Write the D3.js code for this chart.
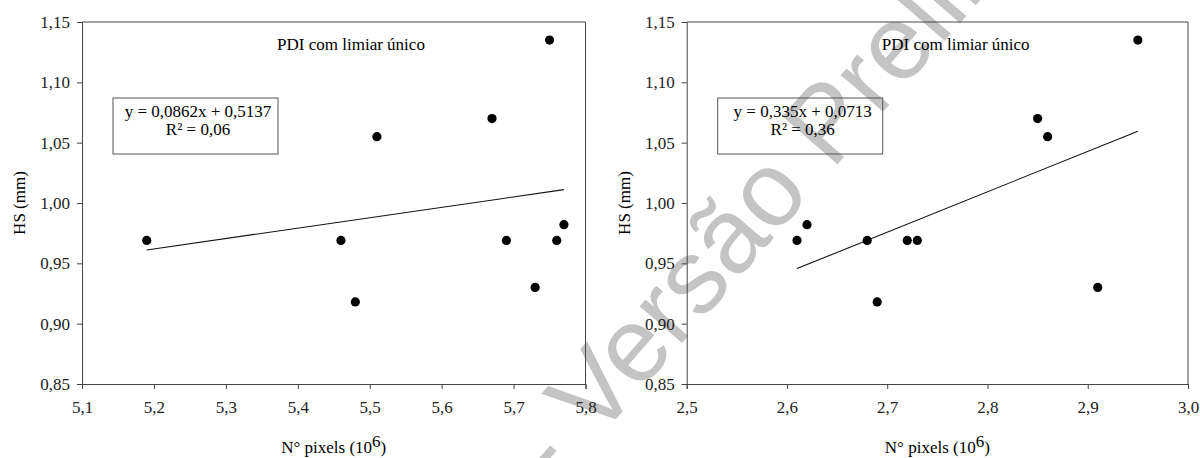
<!DOCTYPE html>
<html lang="pt">
<head>
    <meta charset="UTF-8">
    <title>HS x N° pixels</title>
    <style>
        body { margin: 0; background: #fff; }
        .axis path, .axis line { stroke: #444; }
    </style>
</head>
<body>
    <svg id="chart" width="1200" height="458"></svg>
    <script src="https://d3js.org/d3.v7.min.js"></script>
    <script>
        // dados
        var pixLeft  = [5.19, 5.46, 5.48, 5.51, 5.67, 5.69, 5.73, 5.75, 5.76, 5.77];
        var hsLeft   = [0.969, 0.969, 0.918, 1.055, 1.07, 0.969, 0.93, 1.135, 0.969, 0.982];
        var pixRight = [2.61, 2.62, 2.68, 2.69, 2.72, 2.73, 2.85, 2.86, 2.91, 2.95];
        var hsRight  = [0.969, 0.982, 0.969, 0.918, 0.969, 0.969, 1.07, 1.055, 0.93, 1.135];

        var yTicks      = [0.85, 0.90, 0.95, 1.00, 1.05, 1.10, 1.15];
        var xTicksLeft  = [5.1, 5.2, 5.3, 5.4, 5.5, 5.6, 5.7, 5.8];
        var xTicksRight = [2.5, 2.6, 2.7, 2.8, 2.9, 3.0];

        // coeficientes da reta de tendência (a, b) e texto da equação
        var fitLeft  = [0.0862, 0.5137];
        var fitRight = [0.335, 0.0713];
        var eqLeft   = ["y = 0,0862x + 0,5137", "R² = 0,06"];
        var eqRight  = ["y = 0,335x + 0,0713", "R² = 0,36"];

        var title = "PDI com limiar único";

        var serif = "'Liberation Serif', 'Times New Roman', serif";
        var sans = "'Liberation Sans', Arial, sans-serif";

        var svg = d3.select("#chart");

        // marca d'água
        var wm = svg.append("g")
            .attr("transform", "translate(596,442) rotate(-49)");
        wm.append("text")
            .style("font-family", sans)
            .style("font-size", "106px").style("fill", "#c4c4c4")
            .text("Versão Preliminar");
        wm.append("text")
            .attr("x", -28)
            .attr("text-anchor", "end")
            .style("font-family", sans)
            .style("font-size", "106px").style("fill", "#c4c4c4")
            .text("a -");

        var plotTop = 22, plotBottom = 384;

        function fmt(d, digits) {
            return d.toFixed(digits).replace(".", ",");
        }

        function panel(left, right, xDomain, xTicks, xs, ys, fit, eq, labelX) {
            var x = d3.scaleLinear().domain(xDomain).range([left, right]);
            var y = d3.scaleLinear().domain([0.85, 1.15]).range([plotBottom, plotTop]);
            var g = svg.append("g");

            g.append("g").attr("class", "axis")
                .attr("transform", "translate(0," + plotBottom + ")")
                .call(d3.axisBottom(x).tickValues(xTicks).tickSize(5).tickPadding(9)
                    .tickFormat(function(d) { return fmt(d, 1); }))
                .call(function(a) {
                    a.attr("font-family", null).attr("font-size", null);
                    a.selectAll("text").attr("dy", "0.9em")
                        .style("font-family", serif).style("font-size", "17px").style("fill", "#222");
                });

            g.append("g").attr("class", "axis")
                .attr("transform", "translate(" + left + ",0)")
                .call(d3.axisLeft(y).tickValues(yTicks).tickSize(5).tickPadding(7)
                    .tickFormat(function(d) { return fmt(d, 2); }))
                .call(function(a) {
                    a.attr("font-family", null).attr("font-size", null);
                    a.selectAll("text")
                        .style("font-family", serif).style("font-size", "17px").style("fill", "#222");
                });

            // moldura superior e direita
            g.append("line").attr("x1", left).attr("x2", right).attr("y1", plotTop).attr("y2", plotTop)
                .attr("stroke", "#444");
            g.append("line").attr("x1", right).attr("x2", right).attr("y1", plotTop).attr("y2", plotBottom)
                .attr("stroke", "#444");

            g.append("text")
                .attr("x", left + 269).attr("y", 50)
                .attr("text-anchor", "middle")
                .style("font-family", serif).style("font-size", "17px")
                .text(title);

            // caixa da equação
            g.append("rect")
                .attr("x", left + 31).attr("y", 98)
                .attr("width", 165).attr("height", 56)
                .attr("fill", "none").attr("stroke", "#555");
            g.selectAll(".eq").data(eq).enter().append("text")
                .attr("x", left + 116)
                .attr("y", function(d, i) { return 117 + i * 18; })
                .attr("text-anchor", "middle")
                .style("font-family", serif).style("font-size", "17px")
                .text(function(d) { return d; });

            // reta de tendência
            var x0 = d3.min(xs), x1 = d3.max(xs);
            g.append("line")
                .attr("x1", x(x0)).attr("y1", y(fit[0] * x0 + fit[1]))
                .attr("x2", x(x1)).attr("y2", y(fit[0] * x1 + fit[1]))
                .attr("stroke", "#111").attr("stroke-width", 1.1);

            g.selectAll(".dot").data(xs).enter().append("circle")
                .attr("cx", function(d) { return x(d); })
                .attr("cy", function(d, i) { return y(ys[i]); })
                .attr("r", 4.6)
                .attr("fill", "#000");

            // rótulos dos eixos
            g.append("text")
                .attr("transform", "translate(" + labelX + "," + ((plotTop + plotBottom) / 2) + ") rotate(-90)")
                .attr("text-anchor", "middle")
                .style("font-family", serif).style("font-size", "17px")
                .text("HS (mm)");

            var xl = g.append("text")
                .attr("x", (left + right) / 2).attr("y", 453)
                .attr("text-anchor", "middle")
                .style("font-family", serif).style("font-size", "17px");
            xl.append("tspan").text("N° pixels (10");
            xl.append("tspan").attr("dy", -6).text("6");
            xl.append("tspan").attr("dy", 6).text(")");
        }

        panel(82, 585.5, [5.1, 5.8], xTicksLeft, pixLeft, hsLeft, fitLeft, eqLeft, 25);
        panel(686.7, 1188, [2.5, 3.0], xTicksRight, pixRight, hsRight, fitRight, eqRight, 630);
    </script>
</body>
</html>
